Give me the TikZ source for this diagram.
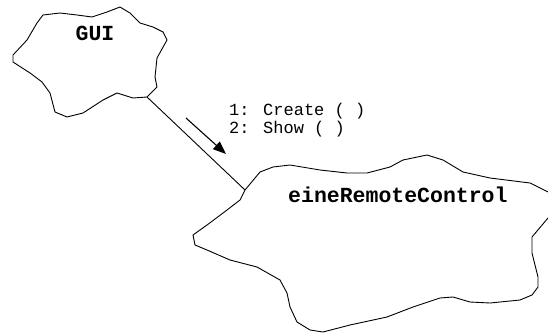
\documentclass[tikz,border=0pt]{standalone}
\usepackage{fontspec}
\newfontfamily\courier{Liberation Mono}
\usetikzlibrary{arrows.meta}
\tikzset{
  cloud line/.style={draw=black, line width=0.9pt, line join=round},
  link/.style={draw=black, line width=0.9pt},
  message/.style={draw=black, line width=1.1pt, -{Triangle[length=13pt,width=10pt]}},
  objname/.style={font=\courier\fontsize{21.5}{24}\selectfont\bfseries, inner sep=0pt},
  msgtext/.style={font=\courier\fontsize{17}{17}\selectfont, inner sep=0pt, anchor=base west},
}
\begin{document}
\begin{tikzpicture}[x=1pt, y=-1pt]
  \useasboundingbox (0,0) rectangle (548,334);
  \clip (0,0) rectangle (548,334);
  \fill[white] (0,0) rectangle (548,334);

  % object cloud: GUI
  \draw[cloud line] (43,15) -- (60,13) -- (77,15) -- (92,17) -- (107,12) -- (120,7)
    -- (130,13) -- (140,23) -- (153,27) -- (163,32) -- (167,40) -- (157,58)
    -- (155,77) -- (157,87) -- (147,97) -- (133,98) -- (117,93) -- (103,100)
    -- (83,113) -- (67,117) -- (55,112) -- (50,93) -- (42,82) -- (30,73)
    -- (13,62) -- (13,55) -- (27,40) -- (37,23) -- cycle;
  \coordinate (guiPort) at (147,97);
  \node[objname, anchor=base] (gui) at (95,41) {GUI};

  % object cloud: eineRemoteControl
  \draw[cloud line] (245,190) -- (260,172) -- (273,167) -- (290,165) -- (320,170)
    -- (347,173) -- (367,173) -- (390,167) -- (403,160) -- (427,155) -- (443,160)
    -- (463,172) -- (490,178) -- (530,183) -- (552,194) -- (552,214) -- (548,218)
    -- (532,237) -- (532,253) -- (538,277) -- (538,287) -- (532,295) -- (520,300)
    -- (490,303) -- (470,302) -- (453,297) -- (440,298) -- (413,307) -- (387,317)
    -- (350,325) -- (323,332) -- (310,330) -- (297,322) -- (290,307) -- (287,293)
    -- (280,280) -- (257,267) -- (230,260) -- (207,250) -- (195,245) -- (193,235)
    -- (207,225) -- (227,210) -- (240,200) -- cycle;
  \coordinate (remotePort) at (245,190);
  \node[objname, anchor=base west] (remote) at (288,202) {eineRemoteControl};

  % link between the two objects
  \draw[link] (guiPort) -- (remotePort);

  % message arrow and its labels
  \coordinate (msgTail) at (186,118);
  \coordinate (msgTip) at (226,154);
  \draw[message] (msgTail) -- (msgTip);
  \node[msgtext] (msgA) at (229,116) {1: Create ( )};
  \node[msgtext] (msgB) at (229,133) {2: Show ( )};
\end{tikzpicture}
\end{document}
